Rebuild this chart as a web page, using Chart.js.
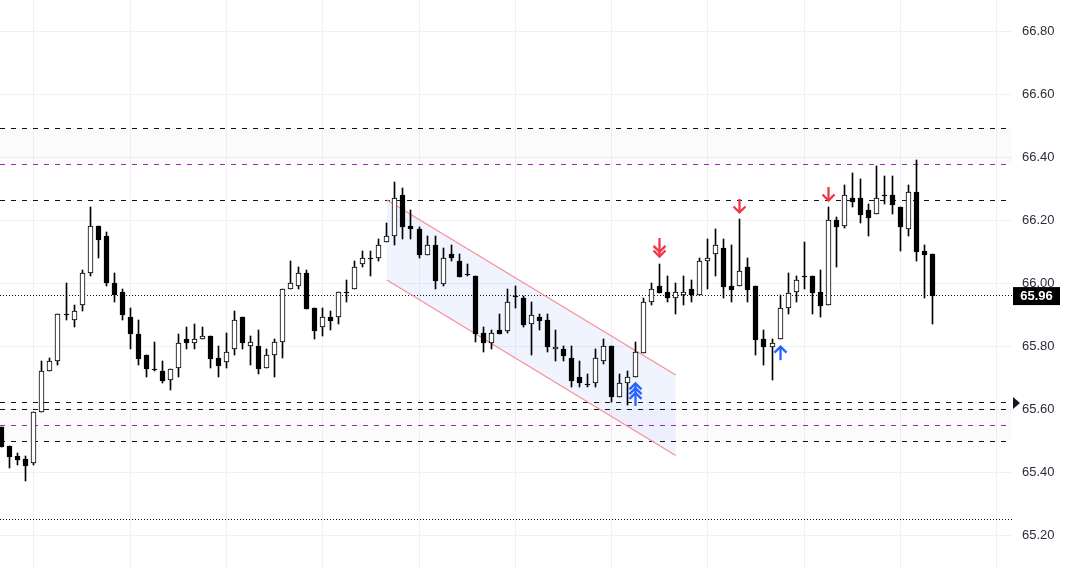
<!DOCTYPE html>
<html>
<head>
<meta charset="utf-8">
<title>Candlestick chart</title>
<script src="https://cdn.jsdelivr.net/npm/chart.js@4/dist/chart.umd.min.js"></script>
<style>
  html, body { margin: 0; padding: 0; background: #fff; overflow: hidden; }
  canvas { display: block; }
</style>
</head>
<body>
<canvas id="candles" width="1066" height="568"></canvas>
<script>
// candle values, one entry per bar
const opens = [65.544,65.482,65.452,65.441,65.430,65.590,65.721,65.753,65.902,65.883,
  65.931,66.032,66.182,66.150,66.000,65.972,65.892,65.841,65.772,65.729,
  65.721,65.692,65.730,65.822,65.812,65.822,65.832,65.762,65.751,65.791,
  65.892,65.800,65.800,65.730,65.772,65.813,65.981,65.991,66.032,65.921,
  65.861,65.892,65.892,65.972,65.981,66.061,66.080,66.080,66.131,66.150,
  66.280,66.182,66.172,66.092,66.121,65.999,66.093,66.070,66.031,66.023,
  65.842,65.812,65.851,65.850,65.961,65.953,65.870,65.892,65.883,65.791,
  65.791,65.762,65.702,65.682,65.683,65.752,65.800,65.640,65.683,65.702,
  65.780,65.940,65.991,65.972,65.953,65.962,65.981,65.962,66.070,66.093,
  66.112,65.991,65.991,66.051,65.991,65.822,65.799,65.822,65.921,65.972,
  66.023,66.023,65.972,65.931,66.201,66.182,66.271,66.271,66.233,66.220,
  66.280,66.280,66.242,66.172,66.290,66.102,66.093];
const highs = [65.544,65.482,65.460,65.452,65.590,65.753,65.762,65.902,66.000,65.931,
  66.043,66.242,66.182,66.163,66.032,65.981,65.921,65.883,65.772,65.813,
  65.753,65.729,65.841,65.861,65.870,65.861,65.832,65.800,65.842,65.912,
  65.892,65.832,65.851,65.791,65.822,65.981,66.070,66.051,66.042,65.921,
  65.921,65.912,65.972,66.010,66.070,66.102,66.102,66.140,66.191,66.322,
  66.303,66.233,66.181,66.150,66.150,66.112,66.121,66.093,66.061,66.023,
  65.861,65.851,65.902,65.981,65.991,65.961,65.940,65.902,65.902,65.851,
  65.800,65.800,65.752,65.711,65.791,65.822,65.800,65.711,65.721,65.813,
  65.953,66.000,66.061,66.023,66.000,66.023,66.010,66.080,66.140,66.172,
  66.140,66.121,66.205,66.080,65.991,65.851,65.822,65.962,66.032,66.023,
  66.131,66.023,66.042,66.242,66.210,66.312,66.350,66.331,66.252,66.373,
  66.341,66.341,66.242,66.312,66.392,66.121,66.093];
const lows = [65.481,65.414,65.424,65.373,65.424,65.590,65.721,65.742,65.884,65.863,
  65.914,66.025,66.082,65.993,65.942,65.885,65.793,65.742,65.704,65.723,
  65.685,65.662,65.704,65.793,65.793,65.822,65.732,65.704,65.732,65.774,
  65.793,65.742,65.713,65.730,65.704,65.764,65.981,65.984,65.920,65.825,
  65.834,65.853,65.872,65.942,65.981,66.054,66.025,66.073,66.131,66.123,
  66.143,66.143,66.082,66.092,65.984,65.993,66.073,66.022,66.025,65.815,
  65.783,65.793,65.840,65.844,65.923,65.863,65.774,65.853,65.783,65.755,
  65.755,65.672,65.672,65.672,65.672,65.743,65.623,65.640,65.615,65.702,
  65.780,65.931,65.971,65.942,65.904,65.933,65.942,65.962,65.984,66.025,
  65.955,65.942,65.991,65.942,65.774,65.742,65.694,65.822,65.904,65.942,
  65.983,65.904,65.895,65.931,66.054,66.175,66.244,66.193,66.152,66.220,
  66.254,66.222,66.104,66.152,66.073,65.955,65.872];
const closes = [65.481,65.449,65.440,65.421,65.590,65.721,65.753,65.902,65.899,65.912,
  66.032,66.182,66.139,66.000,65.962,65.901,65.840,65.761,65.729,65.726,
  65.691,65.729,65.812,65.812,65.822,65.832,65.761,65.739,65.781,65.883,
  65.812,65.813,65.729,65.772,65.813,65.981,66.000,66.032,65.920,65.850,
  65.892,65.882,65.972,65.969,66.051,66.080,66.077,66.121,66.150,66.271,
  66.181,66.172,66.092,66.121,66.009,66.080,66.080,66.022,66.028,65.840,
  65.812,65.842,65.840,65.940,65.958,65.869,65.901,65.882,65.799,65.799,
  65.771,65.691,65.683,65.679,65.762,65.800,65.640,65.683,65.702,65.781,
  65.940,65.981,65.971,65.953,65.972,65.972,65.962,66.070,66.080,66.121,
  65.990,65.980,66.041,65.980,65.821,65.799,65.812,65.921,65.971,66.010,
  66.020,65.971,65.930,66.201,66.181,66.280,66.260,66.219,66.209,66.271,
  66.277,66.251,66.181,66.290,66.101,66.092,65.961];

const priceTicks = [65.2, 65.4, 65.6, 65.8, 66.0, 66.2, 66.4, 66.6, 66.8];
const timeTicks = [4, 16, 28, 40, 52, 64, 76, 88, 100, 112, 124];

// horizontal levels
const dashedLevels = [66.4928, 66.2639, 65.6216, 65.5994, 65.4976];
const purpleLevels = [66.3784, 65.5485];
const dottedLevels = [65.9618, 65.2496];
const lastPrice = 65.96;
const markerPrice = 65.62;

// falling channel, bar numbers and prices at both ends
const channelBars = [48, 84];
const channelUpper = [66.2655, 65.709];
const channelLower = [66.011, 65.453];

// arrows: bar number, tip price, number of chevrons
const sellBars = [82, 92, 103];
const sellTips = [66.081, 66.221, 66.259];
const sellHeads = [2, 1, 1];
const buyBars = [79, 97];
const buyTips = [65.687, 65.804];
const buyHeads = [3, 1];

const xMin = -0.2281, xMax = 125.915;
const yMin = 65.0954, yMax = 66.9014;

const black = '#000000';
const red = '#f23645';
const blue = '#2962ff';

const wickData = opens.map((o, i) => ({ x: i, y: [lows[i], highs[i]] }));
const bodyData = opens.map((o, i) => ({ x: i, y: [o, closes[i]] }));
const bodyFill = opens.map((o, i) => closes[i] > o ? '#ffffff' : black);

function levelLine(price, color, dash) {
  return {
    type: 'line',
    data: [{ x: xMin, y: price }, { x: xMax, y: price }],
    borderColor: color,
    borderWidth: 1,
    borderDash: dash,
    pointRadius: 0,
    fill: false,
    order: 5
  };
}

const datasets = [
  { data: bodyData, backgroundColor: bodyFill, borderColor: black, borderWidth: 1,
    borderSkipped: false, barThickness: 5, order: 1 },
  { data: wickData, backgroundColor: black, borderWidth: 0, barThickness: 1, order: 2 }
];

dashedLevels.forEach(p => datasets.push(levelLine(p, '#111111', [5, 6])));
purpleLevels.forEach(p => datasets.push(levelLine(p, '#9c27b0', [5, 6])));
dottedLevels.forEach(p => datasets.push(levelLine(p, '#111111', [1, 2])));

// faint zones: 66.494 to 66.38 and 65.60 to 65.50
datasets[2].fill = { target: 7, above: 'rgba(120,100,120,0.025)', below: 'rgba(120,100,120,0.025)' };
datasets[5].fill = { target: 6, above: 'rgba(120,100,120,0.025)', below: 'rgba(120,100,120,0.025)' };

datasets.push({
  type: 'line',
  data: channelBars.map((b, i) => ({ x: b, y: channelUpper[i] })),
  borderColor: '#f98d99', borderWidth: 1.2, pointRadius: 0, order: 4
});
datasets.push({
  type: 'line',
  data: channelBars.map((b, i) => ({ x: b, y: channelLower[i] })),
  borderColor: '#f98d99', borderWidth: 1.2, pointRadius: 0,
  fill: { target: datasets.length - 1, above: 'rgba(41,98,255,0.07)', below: 'rgba(41,98,255,0.07)' },
  order: 4
});

function drawArrow(ctx, x, y, dir, heads, color) {
  // dir -1 points down (tip at y, tail above), 1 points up
  ctx.strokeStyle = color;
  ctx.lineWidth = 2.3;
  ctx.lineCap = 'butt';
  ctx.lineJoin = 'miter';
  const tail = heads === 3 ? 24 : heads === 2 ? 20 : 15;
  ctx.beginPath();
  ctx.moveTo(x, y + dir * 2);
  ctx.lineTo(x, y + dir * tail);
  ctx.stroke();
  for (let k = 0; k < heads; k++) {
    const off = k * 4.7;
    ctx.beginPath();
    ctx.moveTo(x - 6, y + dir * (off + 7.5));
    ctx.lineTo(x, y + dir * (off + 1.5));
    ctx.lineTo(x + 6, y + dir * (off + 7.5));
    ctx.stroke();
  }
}

// keep candles on whole pixels so borders stay sharp
const snapBars = {
  id: 'snapBars',
  afterDatasetsUpdate(chart) {
    [0, 1].forEach(d => {
      chart.getDatasetMeta(d).data.forEach(bar => {
        bar.x = Math.round(bar.x - 0.5) + 0.5;
        bar.y = Math.round(bar.y);
        bar.base = Math.round(bar.base);
        if (bar.base === bar.y) bar.base = bar.y + 1;
        bar.height = bar.base - bar.y;
      });
    });
  }
};

const overlays = {
  id: 'overlays',
  afterDraw(chart) {
    const { ctx, scales: { x, y }, chartArea } = chart;
    const snap = v => Math.round(v - 0.5) + 0.5;
    ctx.save();
    sellBars.forEach((b, i) => drawArrow(ctx, snap(x.getPixelForValue(b)), y.getPixelForValue(sellTips[i]), -1, sellHeads[i], red));
    buyBars.forEach((b, i) => drawArrow(ctx, snap(x.getPixelForValue(b)), y.getPixelForValue(buyTips[i]), 1, buyHeads[i], blue));

    // last price tag
    const tagY = y.getPixelForValue(lastPrice);
    ctx.fillStyle = '#000';
    ctx.fillRect(chartArea.right + 1, tagY - 9, 47, 18);
    ctx.fillStyle = '#fff';
    ctx.font = 'bold 13px "Liberation Sans"';
    ctx.textAlign = 'center';
    ctx.textBaseline = 'middle';
    ctx.fillText(lastPrice.toFixed(2), chartArea.right + 24.5, tagY + 0.5);

    // marker triangle on the axis
    const triY = y.getPixelForValue(markerPrice);
    ctx.fillStyle = '#131722';
    ctx.beginPath();
    ctx.moveTo(chartArea.right + 1, triY - 6);
    ctx.lineTo(chartArea.right + 8, triY);
    ctx.lineTo(chartArea.right + 1, triY + 6);
    ctx.closePath();
    ctx.fill();
    ctx.restore();
  }
};

new Chart(document.getElementById('candles'), {
  type: 'bar',
  data: { datasets: datasets },
  plugins: [snapBars, overlays],
  options: {
    responsive: false,
    animation: false,
    layout: { padding: 0, autoPadding: false },
    datasets: { bar: { grouped: false } },
    plugins: { legend: { display: false }, tooltip: { enabled: false } },
    scales: {
      x: {
        type: 'linear',
        offset: false,
        min: xMin,
        max: xMax,
        afterBuildTicks: axis => { axis.ticks = timeTicks.map(v => ({ value: v })); },
        ticks: { display: false },
        grid: { color: '#f0f1f3', drawTicks: false, offset: false },
        border: { display: false }
      },
      y: {
        position: 'right',
        min: yMin,
        max: yMax,
        afterBuildTicks: axis => { axis.ticks = priceTicks.map(v => ({ value: v })); },
        afterFit: axis => {
          // no room kept above and below for half a tick label
          axis.width = 54;
          axis.paddingTop = 0;
          axis.paddingBottom = 0;
          axis._margins.top = 0;
          axis._margins.bottom = 0;
        },
        ticks: {
          color: '#2a2e39',
          padding: 10,
          font: { family: '"Liberation Sans"', size: 13 },
          callback: v => v.toFixed(2)
        },
        grid: { color: '#f0f1f3', drawTicks: false },
        border: { display: false }
      }
    }
  }
});
</script>
</body>
</html>
